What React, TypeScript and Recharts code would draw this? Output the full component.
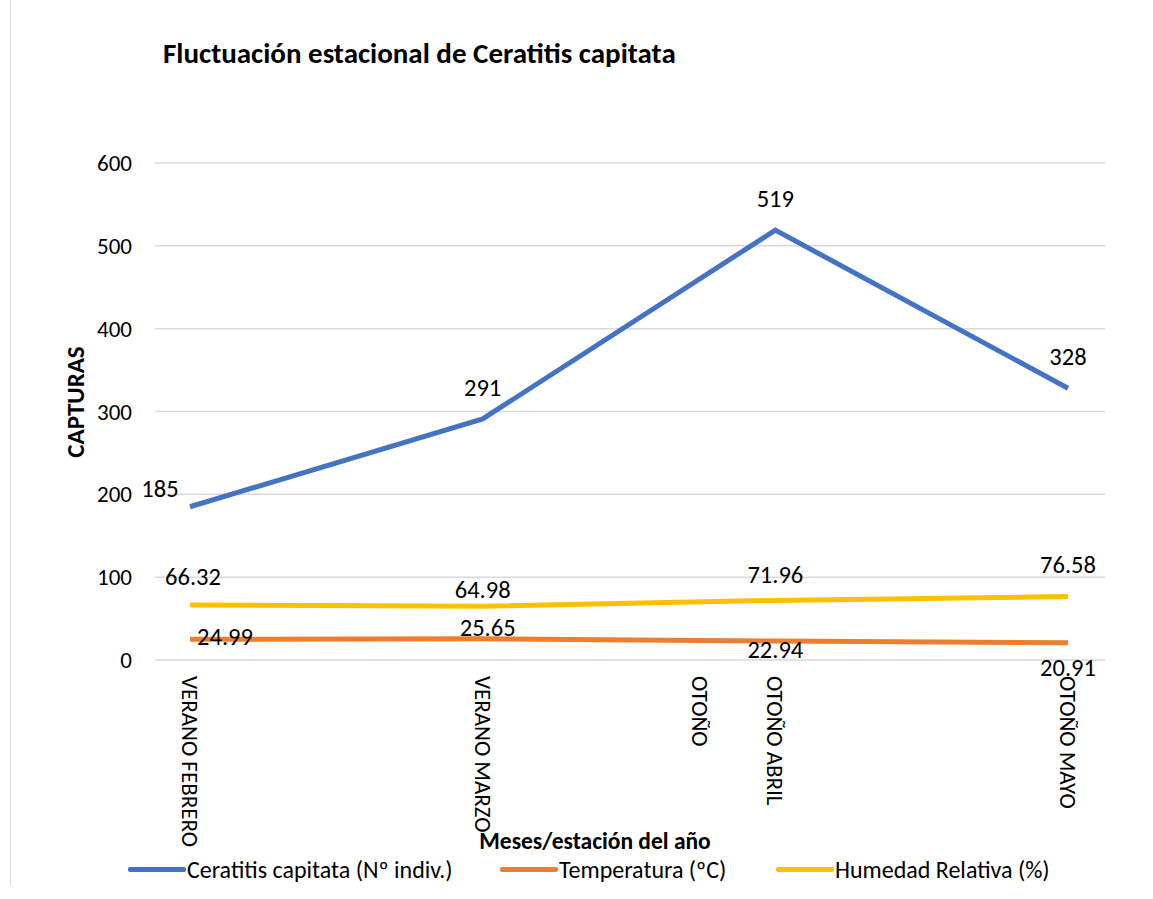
import React from 'react';
import { LineChart, Line, XAxis, YAxis, CartesianGrid, Legend, LabelList } from 'recharts';

const categories = ['VERANO FEBRERO', 'VERANO MARZO', 'OTOÑO ABRIL', 'OTOÑO MAYO'];
const extraTickLabels = ['', '', 'OTOÑO', ''];
const ceratitis = [185, 291, 519, 328];
const temperatura = [24.99, 25.65, 22.94, 20.91];
const humedad = [66.32, 64.98, 71.96, 76.58];
const yTicks = [0, 100, 200, 300, 400, 500, 600];

const FONT = 'Calibri, Carlito, Lato, "Liberation Sans", sans-serif';

const data = categories.map((c, i) => ({
  cat: c,
  extra: extraTickLabels[i],
  ceratitis: ceratitis[i],
  temperatura: temperatura[i],
  humedad: humedad[i],
}));

// label offsets (style only)
const offsets: Record<string, [number, number][]> = {
  ceratitis: [[-30, -18], [0, -31], [0, -31], [0, -31]],
  humedad: [[3, -28], [0, -16], [0, -25], [0, -32]],
  temperatura: [[35, -2], [5, -11], [0, 9], [0, 25]],
};

const makeLabel = (key: string) => (props: any) => {
  const { x, y, value, index } = props;
  const [dx, dy] = offsets[key][index];
  return (
    <text x={x + dx} y={y + dy} textAnchor="middle" dominantBaseline="central" fill="#000" fontSize={24.5} fontFamily={FONT}>
      {value}
    </text>
  );
};

const XTick = (props: any) => {
  const { x, y, payload, index } = props;
  const extra = extraTickLabels[index];
  return (
    <g>
      <text transform={`translate(${x},${y + 8}) rotate(90)`} textAnchor="start" dominantBaseline="central" fontSize={23} fontFamily={FONT} fill="#000">
        {payload.value}
      </text>
      {extra ? (
        <text transform={`translate(${x - 75},${y + 8}) rotate(90)`} textAnchor="start" dominantBaseline="central" fontSize={23} fontFamily={FONT} fill="#000">
          {extra}
        </text>
      ) : null}
    </g>
  );
};

const series = [
  { key: 'ceratitis', name: 'Ceratitis capitata (Nº indiv.)', color: '#4472C4' },
  { key: 'temperatura', name: 'Temperatura (ºC)', color: '#ED7D31' },
  { key: 'humedad', name: 'Humedad Relativa (%)', color: '#FFC000' },
];

const legendWidths = [372, 276, 330];

const LegendContent = () => (
  <div style={{ display: 'flex', height: 30, alignItems: 'center', paddingLeft: 128, fontFamily: FONT, fontSize: 24, color: '#000' }}>
    {series.map((s, i) => (
      <div key={s.key} style={{ display: 'flex', alignItems: 'center', width: legendWidths[i] }}>
        <div style={{ width: 58, height: 5, background: s.color, borderRadius: 2, marginRight: 1 }} />
        <span style={{ whiteSpace: 'nowrap' }}>{s.name}</span>
      </div>
    ))}
  </div>
);

export default function App() {
  return (
    <div style={{ position: 'absolute', left: 0, top: 0, width: 1153, height: 899, background: '#fff', fontFamily: FONT }}>
      <div style={{ position: 'absolute', left: 10, top: 0, width: 1, height: 885, background: '#d9d9d9' }} />
      <LineChart width={1153} height={899} data={data} margin={{ top: 163, right: 48, left: 0, bottom: 15 }}>
        <CartesianGrid vertical={false} stroke="#d9d9d9" strokeWidth={1.5} />
        <XAxis
          dataKey="cat"
          height={194}
          axisLine={false}
          tickLine={false}
          interval={0}
          padding={{ left: 35, right: 37 }}
          tick={<XTick />}
        />
        <YAxis
          width={155}
          domain={[0, 600]}
          ticks={yTicks}
          axisLine={false}
          tickLine={false}
          tickMargin={17}
          tick={{ fill: '#000', fontSize: 23, fontFamily: FONT }}
        />
        <Legend verticalAlign="bottom" content={<LegendContent />} wrapperStyle={{ left: 0, width: 1153 }} />
        {series.map((s) => (
          <Line
            key={s.key}
            type="linear"
            dataKey={s.key}
            name={s.name}
            stroke={s.color}
            strokeWidth={5}
            dot={false}
            activeDot={false}
            isAnimationActive={false}
          >
            <LabelList dataKey={s.key} content={makeLabel(s.key)} />
          </Line>
        ))}
      </LineChart>
      <div style={{ position: 'absolute', left: 163, top: 53, transform: 'translateY(-50%)', fontSize: 29, fontWeight: 'bold', color: '#000', whiteSpace: 'nowrap' }}>
        Fluctuación estacional de Ceratitis capitata
      </div>
      <div style={{ position: 'absolute', left: 595, top: 841, transform: 'translate(-50%,-50%)', fontSize: 23.5, lineHeight: '24px', fontWeight: 'bold', color: '#000', whiteSpace: 'nowrap' }}>
        Meses/estación del año
      </div>
      <div style={{ position: 'absolute', left: 75, top: 402, transform: 'translate(-50%,-50%) rotate(-90deg)', fontSize: 25, fontWeight: 'bold', color: '#000', whiteSpace: 'nowrap' }}>
        CAPTURAS
      </div>
    </div>
  );
}
